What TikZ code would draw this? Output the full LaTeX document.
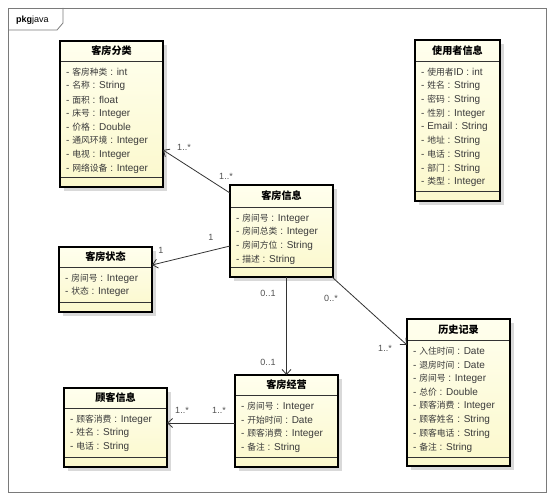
\documentclass[tikz,border=0pt]{standalone}
\usepackage{fontspec}
\setmainfont{Liberation Sans}
\newfontfamily\cjkfont{Noto Sans CJK SC}[Scale=0.88]
\newcommand{\z}[1]{{\cjkfont #1}}
\usetikzlibrary{arrows.meta,fit,calc}
\definecolor{clstop}{HTML}{FFFFEE}
\definecolor{clsbot}{HTML}{FBF8CC}
\definecolor{txtgray}{HTML}{3A3A3A}
\definecolor{multgray}{HTML}{505050}
\definecolor{framegray}{HTML}{7A7A7A}
\tikzset{
  clsline/.style={line width=1.5pt, draw=black},
  seprule/.style={line width=0.8pt, draw=black!80},
  clsshadow/.style={fill=black!15},
  clstitle/.style={font=\fontsize{11.5}{13}\selectfont\bfseries, text=black, inner sep=0pt},
  clsattr/.style={font=\fontsize{10}{11}\selectfont, text=txtgray, anchor=west, inner sep=0pt},
  assoc/.style={line width=0.8pt, draw=black!80, -{Straight Barb[length=5pt,width=9pt]}},
  mult/.style={font=\fontsize{9}{10}\selectfont, text=multgray, inner sep=0pt},
  pkgframe/.style={line width=0.8pt, draw=framegray}
}
\newcommand{\umlclass}[9]{%
  \fill[clsshadow] (#2+4,#3+4) rectangle (#4+4,#5+4);
  \path[top color=clstop, bottom color=clsbot] (#2,#3) rectangle (#4,#5);
  \draw[seprule] (#2,#6) -- (#4,#6) (#2,#7) -- (#4,#7);
  \draw[clsline] (#2,#3) rectangle (#4,#5);
  \node[fit={(#2,#3) (#4,#5)}, inner sep=0pt, outer sep=0pt] (#1) {};
  \node[clstitle] (#1-t) at ({(#2+#4)/2},{(#3+#6)/2}) {\z{#8}};
  \foreach \r [count=\i] in {#9} \node[clsattr] (#1-a\i) at (#2+6,{#6+11.5+(\i-1)*13.7}) {\r};
}
\begin{document}
\begin{tikzpicture}[x=1pt,y=-1pt]
\useasboundingbox (0,0) rectangle (555,500);
% package frame
\draw[pkgframe] (8,8) rectangle (546,492);
\draw[pkgframe] (8,30) -- (57,30) -- (63,23) -- (63,8);
\node[font=\fontsize{9}{10}\selectfont, anchor=west, inner sep=0pt] (pkg) at (16,20) {\textbf{pkg}java};

\umlclass{kffl}{60}{41}{163}{187}{61}{177}{客房分类}{%
  - \z{客房种类} : int, - \z{名称} : String, - \z{面积} : float, - \z{床号} : Integer,
  - \z{价格} : Double, - \z{通风环境} : Integer, - \z{电视} : Integer, - \z{网络设备} : Integer}

\umlclass{syz}{415}{40}{500}{201}{61}{191}{使用者信息}{%
  - \z{使用者}ID : int, - \z{姓名} : String, - \z{密码} : String, - \z{性别} : Integer,
  - Email : String, - \z{地址} : String, - \z{电话} : String, - \z{部门} : String, - \z{类型} : Integer}

\umlclass{kfxx}{230}{185}{333}{277}{207}{267}{客房信息}{%
  - \z{房间号} : Integer, - \z{房间总类} : Integer, - \z{房间方位} : String, - \z{描述} : String}

\umlclass{kfzt}{59}{247}{152}{312}{267}{302}{客房状态}{%
  - \z{房间号} : Integer, - \z{状态} : Integer}

\umlclass{lsjl}{407}{319}{510}{466}{340}{457}{历史记录}{%
  - \z{入住时间} : Date, - \z{退房时间} : Date, - \z{房间号} : Integer, - \z{总价} : Double,
  - \z{顾客消费} : Integer, - \z{顾客姓名} : String, - \z{顾客电话} : String, - \z{备注} : String}

\umlclass{gkxx}{64}{388}{167}{467}{408}{457}{顾客信息}{%
  - \z{顾客消费} : Integer, - \z{姓名} : String, - \z{电话} : String}

\umlclass{kfjy}{235}{375}{338}{467}{395}{457}{客房经营}{%
  - \z{房间号} : Integer, - \z{开始时间} : Date, - \z{顾客消费} : Integer, - \z{备注} : String}

% associations
\draw[assoc] ([yshift=-8pt]kfxx.north west) -- ([yshift=-36pt]kffl.east);
\draw[assoc] ([yshift=-15pt]kfxx.west) -- ([yshift=14.5pt]kfzt.east);
\draw[assoc] (kfjy.north |- kfxx.south) -- (kfjy.north);
\draw[assoc] ([xshift=-1pt]kfxx.south east) -- ([yshift=47.5pt]lsjl.west);
\draw[assoc] ([yshift=-2pt]kfjy.west) -- ([yshift=-2pt]kfjy.west -| gkxx.east);

% multiplicities
\node[mult] (m1) at (184,147) {1..*};
\node[mult] (m2) at (226,176) {1..*};
\node[mult] (m3) at (211,237) {1};
\node[mult] (m4) at (161,250) {1};
\node[mult] (m5) at (268,293) {0..1};
\node[mult] (m6) at (268,362) {0..1};
\node[mult] (m7) at (331,298) {0..*};
\node[mult] (m8) at (385,348) {1..*};
\node[mult] (m9) at (182,410) {1..*};
\node[mult] (m10) at (219,410) {1..*};
\end{tikzpicture}
\end{document}
